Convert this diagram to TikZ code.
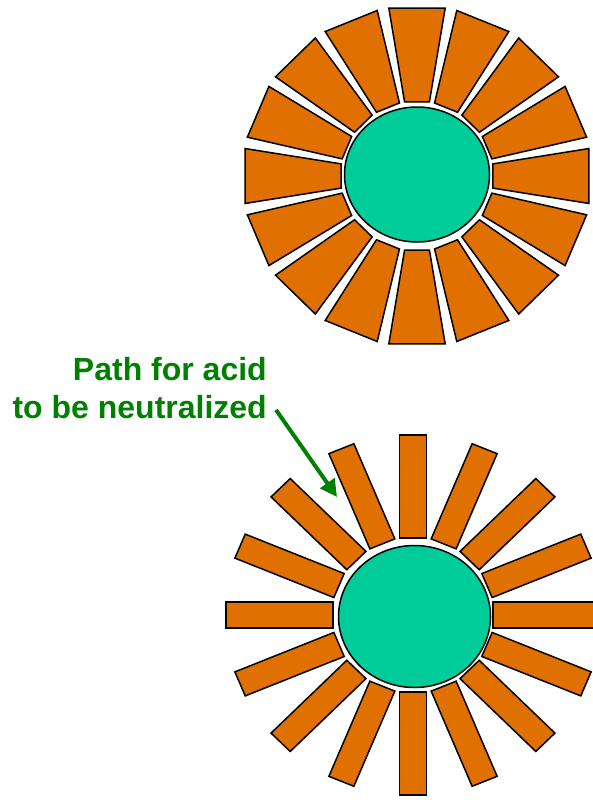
\documentclass[tikz,border=0pt]{standalone}
\usepackage{fontspec}
\setsansfont{Liberation Sans}
\usetikzlibrary{arrows.meta, shapes.geometric}
\definecolor{plateorange}{HTML}{E07000}
\definecolor{coreteal}{HTML}{00CC99}
\definecolor{notegreen}{HTML}{008000}
\tikzset{
	core/.style={
			ellipse,
			draw=black,
			line width=1.5pt,
			fill=coreteal,
			inner sep=0pt
		},
	wedge/.style={
			draw=black,
			line width=1.5pt,
			fill=plateorange,
			line join=miter
		},
	note/.style={
			text=notegreen,
			font=\sffamily\bfseries\fontsize{32}{38}\selectfont,
			align=right,
			inner sep=0pt
		},
	pointer/.style={
			draw=notegreen,
			line width=4pt,
			-{Triangle[length=17pt, width=17pt]}
		}
}

\begin{document}
\begin{tikzpicture}[x=1pt, y=1pt]
\useasboundingbox (0,0) rectangle (593,-800);
\clip (0,0) rectangle (593,-800);

% closely packed plates
\begin{scope}[shift={(417,-176)}, xscale=1.025]
\foreach \a in {0,22.5,...,337.5}
	\draw[wedge] (\a-9.3:75) -- (\a-9.3:170) -- (\a+9.3:170) -- (\a+9.3:75) -- cycle;
\end{scope}
\node[core, minimum width=145pt, minimum height=135pt] (topcore) at (417,-174.5) {};

% spread out plates
\begin{scope}[shift={(413,-615)}, xscale=1.04]
\foreach \a in {0,22.5,...,337.5}
	\draw[wedge, rotate=\a] (77,-13) rectangle (180,13);
\end{scope}
\node[core, minimum width=152pt, minimum height=142pt] (lowcore) at (414.5,-616.5) {};

\node[note, anchor=north east] (acidlabel) at (267,-357) {Path for acid\\to be neutralized};
\coordinate (acidtip) at (337,-497);
\draw[pointer] ([xshift=9pt, yshift=9pt]acidlabel.south east) -- (acidtip);

\end{tikzpicture}
\end{document}
